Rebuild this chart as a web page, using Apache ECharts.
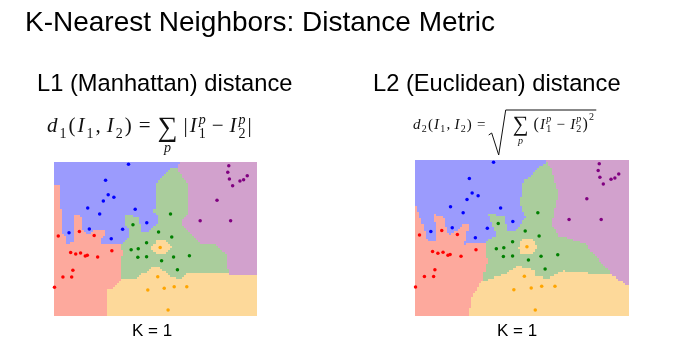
<!DOCTYPE html>
<html>
<head>
<meta charset="utf-8">
<script src="https://cdn.jsdelivr.net/npm/echarts@6/dist/echarts.min.js"></script>
<style>
  html, body { margin: 0; padding: 0; background: #fff; }
  #chart { width: 697px; height: 346px; }
</style>
</head>
<body>
<div id="chart"></div>
<script>
// Training points of the five classes, in a 400 x 300 feature plane (y grows downward).
const classNames = ['blue', 'red', 'green', 'orange', 'purple'];
const bluePoints = [[146.8, 4.5], [101.6, 35.7], [106.8, 63.6], [118, 68.7], [97.2, 75.9], [66.4, 89.7], [90, 101.4], [160, 92.1], [182.8, 118.2], [69.6, 130.5], [29.6, 137.7], [135.2, 131.1], [112.8, 149.4]];
const redPoints = [[8.4, 144.3], [50, 135.6], [79.2, 143.4], [114, 172.8], [32.8, 176.1], [42.8, 179.1], [52.4, 177.3], [61.6, 183], [65.6, 181.8], [86, 185.1], [37.2, 210.9], [17.6, 224.1], [34.8, 224.1], [1, 244.2]];
const greenPoints = [[229.6, 101.4], [155.6, 122.1], [206, 136.5], [232, 146.1], [182.4, 157.2], [152, 170.7], [166, 168.9], [165.2, 185.7], [182.4, 184.5], [212, 192.3], [235.6, 185.1], [266.8, 182.4], [243.2, 209.7]];
const orangePoints = [[209.2, 166.8], [204.4, 223.5], [184.8, 249.3], [217.2, 246], [236.8, 243], [261.6, 243], [224.8, 288.3]];
const purplePoints = [[344.4, 7.2], [342.4, 20.1], [345.6, 33], [352, 46.2], [366.4, 36.9], [373.6, 34.5], [380.8, 26.7], [321.2, 74.7], [288, 114.3], [348, 114.3]];

const classPoints = [bluePoints, redPoints, greenPoints, orangePoints, purplePoints];
const regionColors = ['#9b9bfd', '#fda99d', '#aacd9c', '#fdd99a', '#d2a1cd'];
const pointColors = ['#0000ff', '#ff0000', '#008000', '#ffa500', '#800080'];

const PLANE_W = 400, PLANE_H = 300;
const K = 1;

// Text shown on the slide
const slideTitle = 'K-Nearest Neighbors: Distance Metric';
const panelTitles = ['L1 (Manhattan) distance', 'L2 (Euclidean) distance'];
const kLabel = 'K = ' + K;

// ---- nearest-neighbour decision regions ----
const training = [];
classPoints.forEach((pts, c) => pts.forEach(p => training.push([p[0], p[1], c])));

const metrics = {
  L1: (dx, dy) => Math.abs(dx) + Math.abs(dy),
  L2: (dx, dy) => Math.sqrt(dx * dx + dy * dy)
};

function nearestClass(x, y, dist) {
  let best = Infinity, cls = 0;
  for (const t of training) {
    const d = dist(t[0] - x, t[1] - y);
    if (d < best) { best = d; cls = t[2]; }
  }
  return cls;
}

// Sample the plane on a grid and merge equal neighbours of a row into runs.
function decisionRuns(dist, nx, ny) {
  const cw = PLANE_W / nx, ch = PLANE_H / ny;
  const runs = [];
  for (let j = 0; j < ny; j++) {
    const cy = (j + 0.5) * ch;
    let start = 0, prev = -1;
    for (let i = 0; i < nx; i++) {
      const c = nearestClass((i + 0.5) * cw, cy, dist);
      if (c !== prev) {
        if (prev >= 0) runs.push([start * cw, j * ch, i * cw, (j + 1) * ch, prev]);
        start = i; prev = c;
      }
    }
    runs.push([start * cw, j * ch, PLANE_W, (j + 1) * ch, prev]);
  }
  return runs;
}

function renderCell(params, api) {
  const a = api.coord([api.value(0), api.value(1)]);
  const b = api.coord([api.value(2), api.value(3)]);
  const x0 = Math.round(Math.min(a[0], b[0])), x1 = Math.round(Math.max(a[0], b[0]));
  const y0 = Math.round(Math.min(a[1], b[1])), y1 = Math.round(Math.max(a[1], b[1]));
  return {
    type: 'rect',
    shape: { x: x0, y: y0, width: x1 - x0, height: y1 - y0 },
    style: { fill: regionColors[api.value(4)] }
  };
}

// ---- small formula typesetter (measured pieces placed left to right) ----
const measureCtx = document.createElement('canvas').getContext('2d');
const SERIF = '"Liberation Serif", "DejaVu Serif", serif';
function fontOf(size, italic) { return (italic ? 'italic ' : '') + size + 'px ' + SERIF; }
function widthOf(t, size, italic) { measureCtx.font = fontOf(size, italic); return measureCtx.measureText(t).width; }

// piece: [text, size, italic, dy, mode]; mode: undefined | 'sup' | 'sub' | 'under' | 'gap' | 'radical' | 'radicalEnd'
function typeset(pieces, x, baseline, color, tracking) {
  const out = [];
  let supW = 0, lastX = x, lastW = 0, radicalStart = null;
  for (const p of pieces) {
    const [t, size, italic, dy, mode] = p;
    if (mode === 'gap') { x += size; continue; }
    if (mode === 'radical') {
      radicalStart = x;
      x += size;
      continue;
    }
    if (mode === 'radicalEnd') {
      const r = radicalStart, h = p[1];
      out.push({
        type: 'polyline',
        shape: { points: [[r, baseline + 5], [r + 3, baseline + 3], [r + 10, baseline + h[0]], [r + 17, baseline - h[1]], [x + 1, baseline - h[1]]] },
        style: { stroke: color, lineWidth: 1, fill: null }
      });
      continue;
    }
    const w = widthOf(t, size, italic);
    let px = x;
    if (mode === 'under') px = lastX + lastW / 2 - w / 2;
    out.push({
      type: 'text',
      x: px, y: baseline + dy - 0.34 * size,
      style: { text: t, font: fontOf(size, italic), fill: color, verticalAlign: 'middle', align: 'left' }
    });
    if (mode === 'sup') { supW = w; continue; }
    if (mode === 'under') continue;
    if (mode === 'sub') { x += Math.max(w, supW) + tracking; supW = 0; lastX = px; lastW = w; continue; }
    lastX = px; lastW = w;
    x += w + tracking;
  }
  return out;
}

const I = true, N = false;
const formulaL1 = [
  ['d', 21, I, 0], ['1', 14, N, 5, 'sub'], ['(', 21, N, 0], ['I', 21, I, 0], ['1', 14, N, 5, 'sub'],
  [',', 21, N, 0], ['', 4, N, 0, 'gap'], ['I', 21, I, 0], ['2', 14, N, 5, 'sub'], [')', 21, N, 0],
  ['', 5, N, 0, 'gap'], ['=', 21, N, 0], ['', 5, N, 0, 'gap'],
  ['\u2211', 28, N, 4], ['p', 14, I, 19, 'under'], ['', 4, N, 0, 'gap'],
  ['|', 21, N, 0], ['I', 21, I, 0], ['p', 14, I, -9, 'sup'], ['1', 14, N, 5, 'sub'],
  ['', 4, N, 0, 'gap'], ['\u2212', 21, N, 0], ['', 4, N, 0, 'gap'],
  ['I', 21, I, 0], ['p', 14, I, -9, 'sup'], ['2', 14, N, 5, 'sub'], ['|', 21, N, 0]
];
const formulaL2 = [
  ['d', 15, I, 0], ['2', 10, N, 3, 'sub'], ['(', 15, N, 0], ['I', 15, I, 0], ['1', 10, N, 3, 'sub'],
  [',', 15, N, 0], ['', 3, N, 0, 'gap'], ['I', 15, I, 0], ['2', 10, N, 3, 'sub'], [')', 15, N, 0],
  ['', 4, N, 0, 'gap'], ['=', 15, N, 0], ['', 2, N, 0, 'gap'],
  ['', 24, N, 0, 'radical'],
  ['\u2211', 22, N, 3], ['p', 10, I, 15, 'under'], ['', 4, N, 0, 'gap'],
  ['(', 16, N, 0], ['I', 15, I, 0], ['p', 10, I, -7, 'sup'], ['1', 10, N, 3, 'sub'],
  ['', 4, N, 0, 'gap'], ['\u2212', 15, N, 0], ['', 4, N, 0, 'gap'],
  ['I', 15, I, 0], ['p', 10, I, -7, 'sup'], ['2', 10, N, 3, 'sub'], [')', 16, N, 0], ['2', 10, N, -9],
  ['', [25, 20], N, 0, 'radicalEnd']
];

const SANS = '"Liberation Sans", Arial, sans-serif';
function label(t, x, y, size) {
  return { type: 'text', x: x, y: y, style: { text: t, font: size + 'px ' + SANS, fill: '#000', verticalAlign: 'middle', align: 'left' } };
}

const graphics = [
  label(slideTitle, 25, 23.5, 28),
  label(panelTitles[0], 37, 84, 23.7),
  label(panelTitles[1], 373, 84, 23.7),
  label(kLabel, 132, 331, 17),
  label(kLabel, 497, 331, 17)
].concat(typeset(formulaL1, 47, 134, '#111', 2), typeset(formulaL2, 413, 130, '#111', 1.2));

const panels = [
  { grid: { left: 54, top: 162, width: 203, height: 154 }, dist: metrics.L1 },
  { grid: { left: 415, top: 160, width: 214, height: 156 }, dist: metrics.L2 }
];

const series = [];
panels.forEach((pn, g) => {
  series.push({
    type: 'custom',
    xAxisIndex: g, yAxisIndex: g,
    silent: true,
    renderItem: renderCell,
    encode: { x: [0, 2], y: [1, 3] },
    data: decisionRuns(pn.dist, 100, 75),
    z: 1
  });
  classPoints.forEach((pts, c) => {
    series.push({
      type: 'scatter',
      name: classNames[c],
      xAxisIndex: g, yAxisIndex: g,
      symbolSize: 3.5,
      itemStyle: { color: pointColors[c], opacity: 1 },
      data: pts,
      silent: true,
      z: 2
    });
  });
});

const chart = echarts.init(document.getElementById('chart'));
chart.setOption({
  animation: false,
  backgroundColor: '#fff',
  grid: panels.map(p => p.grid),
  xAxis: panels.map((p, g) => ({ type: 'value', gridIndex: g, min: 0, max: PLANE_W, show: false })),
  yAxis: panels.map((p, g) => ({ type: 'value', gridIndex: g, min: 0, max: PLANE_H, inverse: true, show: false })),
  graphic: graphics,
  series: series
});
</script>
</body>
</html>
